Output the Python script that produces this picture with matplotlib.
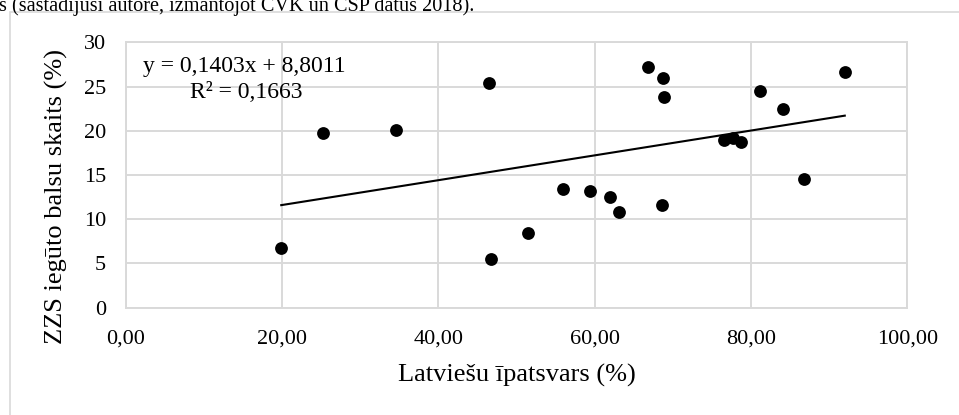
import matplotlib
matplotlib.use("Agg")
import matplotlib.pyplot as plt
from matplotlib.patches import Rectangle
from matplotlib.ticker import FuncFormatter

# Data
latviesu = [19.9, 25.3, 34.6, 46.5, 46.7, 51.5, 56.0, 59.4, 61.9, 63.1, 66.8,
            68.6, 68.8, 68.9, 76.5, 77.7, 78.7, 81.2, 84.1, 86.8, 92.0]
zzs = [6.8, 19.7, 20.1, 25.4, 5.5, 8.4, 13.4, 13.2, 12.5, 10.8, 27.2,
       11.6, 26.0, 23.8, 18.95, 19.2, 18.7, 24.5, 22.5, 14.5, 26.6]
trend_slope = 0.1403
trend_intercept = 8.8011
r_squared = "0,1663"
x_ticks = [0, 20, 40, 60, 80, 100]
y_ticks = [0, 5, 10, 15, 20, 25, 30]

plt.rcParams['font.family'] = ['Liberation Serif', 'DejaVu Serif']

fig = plt.figure(figsize=(9.59, 4.15), dpi=100)
W, H = 959, 415

# outer chart frame (cut by the image edge)
fig.patches.append(Rectangle((10 / W, -0.1), 1.1, 1 - 12 / H + 0.1,
                             transform=fig.transFigure, fill=False,
                             edgecolor='#d9d9d9', linewidth=1.2))

# caption line cut at the top
fig.text(-1 / W, 1 - 11 / H, "s (sastādījusi autore, izmantojot CVK un CSP datus 2018).",
         fontsize=14.6, ha='left', va='baseline', color='black')

x0, x1 = 125.7, 907.3
y0, y1 = 307.7, 42.3
ax = fig.add_axes([x0 / W, 1 - y0 / H, (x1 - x0) / W, (y0 - y1) / H])
ax.set_xlim(0, 100)
ax.set_ylim(0, 30)
ax.set_xticks(x_ticks)
ax.set_yticks(y_ticks)
ax.xaxis.set_major_formatter(FuncFormatter(lambda v, p: f"{v:.2f}".replace('.', ',')))
ax.yaxis.set_major_formatter(FuncFormatter(lambda v, p: f"{int(v)}"))
ax.grid(True, color='#d9d9d9', linewidth=1.4)
ax.set_axisbelow(True)
for s in ax.spines.values():
    s.set_color('#d9d9d9')
    s.set_linewidth(1.4)
ax.tick_params(length=0, labelsize=16, pad=14)
ax.tick_params(axis='x', pad=16)

ax.scatter(latviesu, zzs, s=85, color='black', zorder=3, linewidths=0)
xa, xb = min(latviesu), max(latviesu)
ax.plot([xa, xb], [trend_slope * xa + trend_intercept, trend_slope * xb + trend_intercept],
        color='black', linewidth=1.5, zorder=2)

ax.text(2.2, 27.3, "y = " + f"{trend_slope:.4f}".replace('.', ',') + "x + " +
        f"{trend_intercept:.4f}".replace('.', ','), fontsize=17, va='center', ha='left')
ax.text(8.2, 24.3, "R² = " + r_squared, fontsize=17, va='center', ha='left')

fig.text(516.6 / W, 1 - 375 / H, "Latviešu īpatsvars (%)", fontsize=19,
         ha='center', va='center')
fig.text(56 / W, 1 - 196.5 / H, "ZZS iegūto balsu skaits (%)", fontsize=19,
         ha='center', va='center', rotation=90)

fig.savefig("out.png", dpi=100, facecolor='white')
